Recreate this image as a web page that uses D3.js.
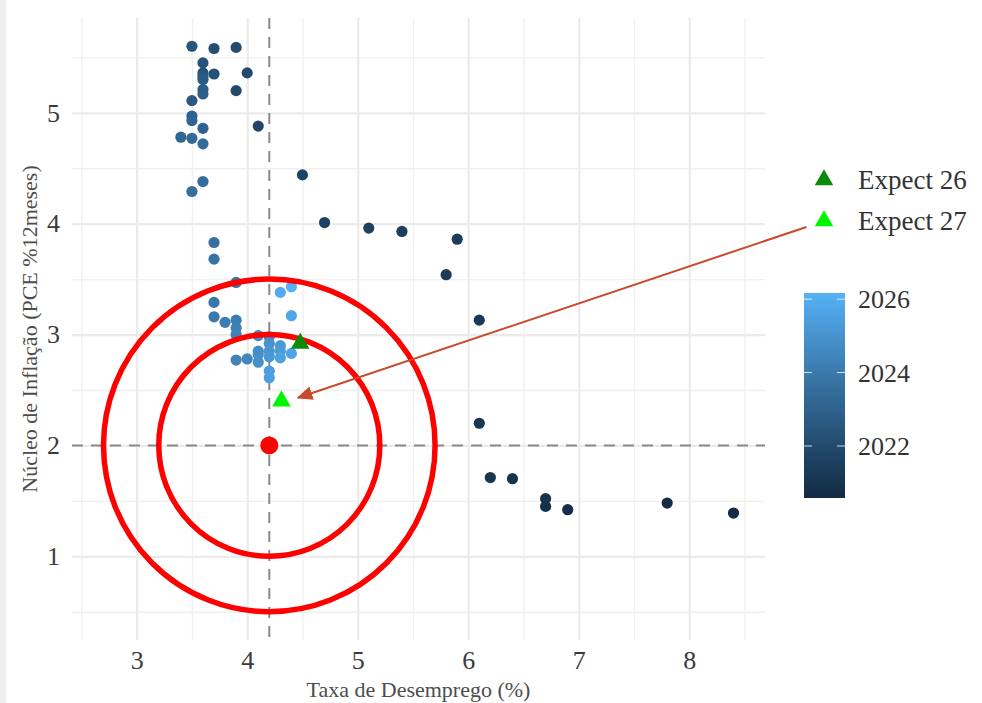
<!DOCTYPE html>
<html>
<head>
<meta charset="utf-8">
<script src="https://cdn.jsdelivr.net/npm/d3@7"></script>
<style>
  html, body { margin: 0; padding: 0; background: #fff; }
  svg { display: block; font-family: "Liberation Serif", "DejaVu Serif", serif; }
</style>
</head>
<body>
<svg id="chart" width="982" height="703"></svg>
<script>
// ---- data ----
const months = [
  "2020-08","2020-09","2020-10","2020-11","2020-12",
  "2021-01","2021-02","2021-03","2021-04","2021-05","2021-06","2021-07","2021-08","2021-09","2021-10","2021-11","2021-12",
  "2022-01","2022-02","2022-03","2022-04","2022-05","2022-06","2022-07","2022-08","2022-09","2022-10","2022-11","2022-12",
  "2023-01","2023-02","2023-03","2023-04","2023-05","2023-06","2023-07","2023-08","2023-09","2023-10","2023-11","2023-12",
  "2024-01","2024-02","2024-03","2024-04","2024-05","2024-06","2024-07","2024-08","2024-09","2024-10","2024-11","2024-12",
  "2025-01","2025-02","2025-03","2025-04","2025-05","2025-06","2025-07","2025-08","2025-09","2025-10","2025-12","2026-03"
];
const unemployment = [
  8.4,7.8,6.9,6.7,6.7,
  6.4,6.2,6.1,6.1,5.8,5.9,5.4,5.1,4.7,4.5,4.1,3.9,
  4.0,3.9,3.7,3.7,3.6,3.6,3.5,3.6,3.5,3.6,3.6,3.6,
  3.5,3.6,3.5,3.4,3.5,3.6,3.6,3.5,3.7,3.7,3.9,3.7,
  3.7,3.8,3.9,3.9,3.9,3.9,4.0,4.1,4.2,4.1,4.1,4.1,
  4.2,4.2,4.2,4.3,4.3,4.2,4.2,4.3,4.4,4.4,4.3,4.4
];
const corePCE = [
  1.39,1.48,1.42,1.45,1.52,
  1.70,1.71,2.20,3.13,3.54,3.86,3.93,3.96,4.01,4.44,4.88,5.20,
  5.36,5.59,5.58,5.35,5.36,5.45,5.60,5.33,5.11,5.30,5.21,5.17,
  4.97,4.86,4.93,4.78,4.77,4.72,4.38,4.29,3.83,3.68,3.47,3.29,
  3.16,3.11,3.13,3.06,3.00,2.77,2.78,2.99,2.98,2.85,2.82,2.75,
  2.92,2.85,2.80,2.90,2.85,2.67,2.61,2.79,2.83,3.17,3.38,3.43
];

const expectLabels = ["Expect 26", "Expect 27"];
const expectX = [4.48, 4.31];
const expectY = [2.92, 2.40];
const expectColors = ["#0b8a0b", "#00f500"];

const target = { x: 4.2, y: 2.0 };
const ringRadii = [1.5, 1.0];
const arrowFrom = { x: 9.06, y: 3.97 };
const arrowTo = { x: 4.46, y: 2.43 };

const xTicks = [3, 4, 5, 6, 7, 8];
const yTicks = [1, 2, 3, 4, 5];
const xMinor = [2.5, 3.5, 4.5, 5.5, 6.5, 7.5, 8.5];
const yMinor = [0.5, 1.5, 2.5, 3.5, 4.5, 5.5];
const colorTicks = [2022, 2024, 2026];

const xTitle = "Taxa de Desemprego (%)";
const yTitle = "Núcleo de Inflação (PCE %12meses)";

// ---- prep ----
const toYear = m => { const [y, mo] = m.split("-").map(Number); return y + (mo - 1) / 12; };
const points = months.map((m, i) => ({ t: toYear(m), x: unemployment[i], y: corePCE[i] }));

const svg = d3.select("#chart");
const W = 982, H = 703;
const panel = { left: 72, right: 765, top: 18, bottom: 640 };

svg.append("rect").attr("width", W).attr("height", H).attr("fill", "#fff");
svg.append("rect").attr("x", 0).attr("y", 0).attr("width", 6).attr("height", H).attr("fill", "#eeeeee");

// ggplot-like 5% expansion over data + rings
const xs = points.map(d => d.x).concat([target.x - ringRadii[0], target.x + ringRadii[0]]);
const ys = points.map(d => d.y).concat([target.y - ringRadii[0], target.y + ringRadii[0]]);
const xe = d3.extent(xs), ye = d3.extent(ys);
const xp = (xe[1] - xe[0]) * 0.05, yp = (ye[1] - ye[0]) * 0.05;

const x = d3.scaleLinear().domain([xe[0] - xp, xe[1] + xp]).range([panel.left, panel.right]);
const y = d3.scaleLinear().domain([ye[0] - yp, ye[1] + yp]).range([panel.bottom, panel.top]);

const tExt = d3.extent(points, d => d.t);
const color = d3.scaleLinear().domain(tExt).range(["#132B43", "#56B1F7"]).interpolate(d3.interpolateLab);

// ---- grid ----
const grid = svg.append("g");
grid.append("g")
  .attr("transform", `translate(0,${panel.bottom})`)
  .call(d3.axisBottom(x).tickValues(xMinor).tickSize(-(panel.bottom - panel.top)).tickFormat(() => ""))
  .call(g => g.select(".domain").remove())
  .selectAll("line").attr("stroke", "#f0f0f0").attr("stroke-width", 1.3);
grid.append("g")
  .attr("transform", `translate(${panel.left},0)`)
  .call(d3.axisLeft(y).tickValues(yMinor).tickSize(-(panel.right - panel.left)).tickFormat(() => ""))
  .call(g => g.select(".domain").remove())
  .selectAll("line").attr("stroke", "#f0f0f0").attr("stroke-width", 1.3);

const xAxis = grid.append("g")
  .attr("transform", `translate(0,${panel.bottom})`)
  .call(d3.axisBottom(x).tickValues(xTicks).tickSize(-(panel.bottom - panel.top)).tickPadding(11).tickFormat(d3.format("d")))
  .call(g => g.select(".domain").remove());
xAxis.selectAll("line").attr("stroke", "#ebebeb").attr("stroke-width", 2.2);
xAxis.selectAll("text").attr("fill", "#3a3a3a").attr("font-size", 26).attr("font-family", "Liberation Serif");

const yAxis = grid.append("g")
  .attr("transform", `translate(${panel.left},0)`)
  .call(d3.axisLeft(y).tickValues(yTicks).tickSize(-(panel.right - panel.left)).tickPadding(12).tickFormat(d3.format("d")))
  .call(g => g.select(".domain").remove());
yAxis.selectAll("line").attr("stroke", "#ebebeb").attr("stroke-width", 2.2);
yAxis.selectAll("text").attr("fill", "#3a3a3a").attr("font-size", 26).attr("font-family", "Liberation Serif");

// ---- reference lines ----
svg.append("line")
  .attr("x1", x(target.x)).attr("x2", x(target.x))
  .attr("y1", panel.top).attr("y2", panel.bottom)
  .attr("stroke", "#8a8a8a").attr("stroke-width", 2).attr("stroke-dasharray", "11,8");
svg.append("line")
  .attr("x1", panel.left).attr("x2", panel.right)
  .attr("y1", y(target.y)).attr("y2", y(target.y))
  .attr("stroke", "#8a8a8a").attr("stroke-width", 2).attr("stroke-dasharray", "11,8");

// ---- points ----
svg.append("g").selectAll("circle")
  .data(points)
  .join("circle")
  .attr("cx", d => x(d.x))
  .attr("cy", d => y(d.y))
  .attr("r", 5.6)
  .attr("fill", d => color(d.t));

// ---- target rings ----
svg.append("g").selectAll("ellipse")
  .data(ringRadii)
  .join("ellipse")
  .attr("cx", x(target.x))
  .attr("cy", y(target.y))
  .attr("rx", r => x(target.x + r) - x(target.x))
  .attr("ry", r => y(target.y - r) - y(target.y))
  .attr("fill", "none")
  .attr("stroke", "#ff0000")
  .attr("stroke-width", 5.5);

svg.append("circle")
  .attr("cx", x(target.x)).attr("cy", y(target.y)).attr("r", 9)
  .attr("fill", "#ff0000");

// ---- expectation triangles ----
const tri = d3.symbol().type(d3.symbolTriangle).size(150);
svg.append("g").selectAll("path")
  .data(expectLabels)
  .join("path")
  .attr("transform", (d, i) => `translate(${x(expectX[i])},${y(expectY[i])})`)
  .attr("d", tri)
  .attr("fill", (d, i) => expectColors[i]);

// ---- arrow ----
const arrowCol = "#c94a2a";
svg.append("defs").append("marker")
  .attr("id", "arrowhead")
  .attr("viewBox", "0 0 10 10")
  .attr("refX", 9).attr("refY", 5)
  .attr("markerWidth", 16).attr("markerHeight", 14)
  .attr("markerUnits", "userSpaceOnUse")
  .attr("orient", "auto")
  .attr("preserveAspectRatio", "none")
  .append("path")
  .attr("d", "M0,0 L10,5 L0,10 Z")
  .attr("fill", arrowCol);
svg.append("line")
  .attr("x1", x(arrowFrom.x)).attr("y1", y(arrowFrom.y))
  .attr("x2", x(arrowTo.x)).attr("y2", y(arrowTo.y))
  .attr("stroke", arrowCol).attr("stroke-width", 2)
  .attr("marker-end", "url(#arrowhead)");

// ---- axis titles ----
svg.append("text")
  .attr("x", (panel.left + panel.right) / 2).attr("y", 697)
  .attr("text-anchor", "middle")
  .attr("fill", "#4d4d4d").attr("font-size", 22)
  .text(xTitle);
svg.append("text")
  .attr("transform", `translate(37,${(panel.top + panel.bottom) / 2}) rotate(-90)`)
  .attr("text-anchor", "middle")
  .attr("fill", "#4d4d4d").attr("font-size", 22)
  .text(yTitle);

// ---- legend: shapes ----
const leg = svg.append("g");
expectLabels.forEach((lab, i) => {
  const cy = 180 + i * 41;
  leg.append("path").attr("transform", `translate(824,${cy})`).attr("d", tri).attr("fill", expectColors[i]);
  leg.append("text").attr("x", 858).attr("y", cy).attr("dy", "0.33em")
    .attr("fill", "#333").attr("font-size", 27).text(lab);
});

// ---- legend: colour bar ----
const cb = { x: 804, w: 41, top: 293, bottom: 498 };
const cbScale = d3.scaleLinear().domain(tExt).range([cb.bottom, cb.top]);
const grad = svg.select("defs").append("linearGradient")
  .attr("id", "cbgrad").attr("x1", 0).attr("y1", 1).attr("x2", 0).attr("y2", 0);
d3.range(0, 1.0001, 0.1).forEach(f => {
  grad.append("stop").attr("offset", f).attr("stop-color", color(tExt[0] + f * (tExt[1] - tExt[0])));
});
leg.append("rect")
  .attr("x", cb.x).attr("y", cb.top).attr("width", cb.w).attr("height", cb.bottom - cb.top)
  .attr("fill", "url(#cbgrad)");
colorTicks.forEach(t => {
  const ty = cbScale(t);
  leg.append("line").attr("x1", cb.x).attr("x2", cb.x + 8).attr("y1", ty).attr("y2", ty)
    .attr("stroke", "#fff").attr("stroke-width", 1).attr("opacity", 0.8);
  leg.append("line").attr("x1", cb.x + cb.w - 8).attr("x2", cb.x + cb.w).attr("y1", ty).attr("y2", ty)
    .attr("stroke", "#fff").attr("stroke-width", 1).attr("opacity", 0.8);
  leg.append("text").attr("x", 858).attr("y", ty).attr("dy", "0.35em")
    .attr("fill", "#333").attr("font-size", 26).text(t);
});
</script>
</body>
</html>
